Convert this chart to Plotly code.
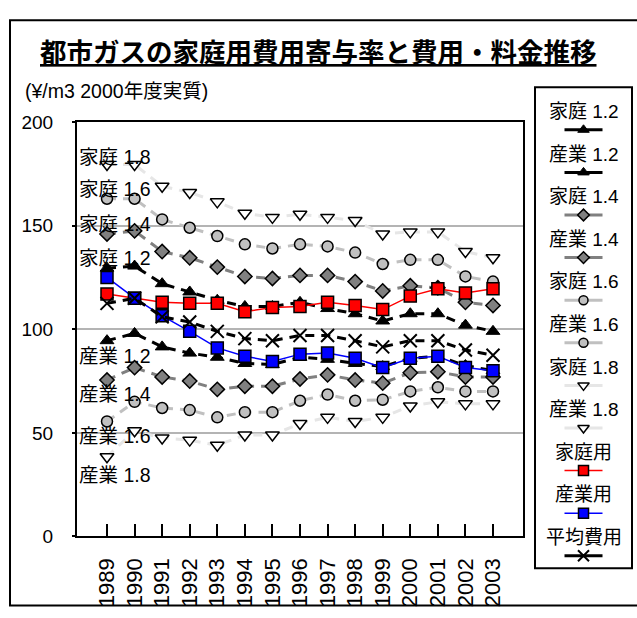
import plotly.graph_objects as go

# ---- data (yen per m3, real FY2000 prices) ----
years = list(range(1989, 2004))

katei_12 = [129.5, 130.5, 122, 118, 114, 111, 111, 113, 110, 107.5, 104, 107.5, 107.5, 102, 99]
sangyo_12 = [94.5, 98, 91.5, 88.5, 86.5, 83.5, 83, 86.5, 85.5, 83.5, 82, 86, 87, 82.5, 80]
katei_14 = [146, 147.5, 137.5, 134.5, 130, 125.5, 124.5, 126, 126, 123, 118.5, 121, 120, 113, 111.5]
sangyo_14 = [75.5, 81.5, 77, 75, 71, 72.5, 72.5, 76, 78, 75.5, 74, 79, 79.5, 77, 77]
katei_16 = [163, 163, 153, 149, 145, 141, 139, 141, 140, 137, 131.5, 133.5, 133.5, 125.5, 123]
sangyo_16 = [55.5, 65, 62, 61, 57.5, 60, 60, 65.5, 68.5, 65.5, 66, 70, 72, 70, 70]
katei_18 = [179.5, 179.5, 169, 166, 161.5, 156, 154, 155.5, 154, 152.5, 146, 147, 147, 137.5, 134.5]
sangyo_18 = [38.5, 51, 47.5, 46.5, 44, 49, 49, 54.5, 57.5, 55.5, 57.5, 63, 65, 64, 64]
kateiyo = [117, 115, 113, 112.5, 112.5, 108.5, 110.5, 111, 113, 111.5, 109.5, 116, 119.5, 117.5, 119.5]
sangyoyo = [125, 115, 106.5, 99, 91, 87, 84.5, 88, 88.5, 86, 81.5, 86, 87, 81.5, 80]
heikin = [112.5, 115, 106, 103.5, 99, 95.5, 94.5, 97, 97, 94.5, 91.5, 94.5, 94.5, 90, 87.5]

series_names = ["家庭 1.2", "産業 1.2", "家庭 1.4", "産業 1.4", "家庭 1.6", "産業 1.6",
                "家庭 1.8", "産業 1.8", "家庭用", "産業用", "平均費用"]
series_values = [katei_12, sangyo_12, katei_14, sangyo_14, katei_16, sangyo_16,
                 katei_18, sangyo_18, kateiyo, sangyoyo, heikin]

# in-plot series captions and the value level each one sits at
caption_texts = ["家庭 1.8", "家庭 1.6", "家庭 1.4", "家庭 1.2",
                 "産業 1.2", "産業 1.4", "産業 1.6", "産業 1.8"]
caption_levels = [183, 167.7, 150.6, 134.4, 87.2, 68.6, 48.4, 29.9]

y_ticks = [0, 50, 100, 150, 200]

# ---- styling ----
W, H = 637, 618
FONT = "Liberation Sans, Arial, Noto Sans CJK JP, sans-serif"
PL, PR, PT, PB = 77, 523, 116, 545          # plot area edges in pixels

styles = [
    dict(line=dict(color="black", width=3, dash="9px,7px"),
         marker=dict(symbol="triangle-up", size=12, color="black", line=dict(color="black", width=1))),
    dict(line=dict(color="black", width=3, dash="9px,7px"),
         marker=dict(symbol="triangle-up", size=12, color="black", line=dict(color="black", width=1))),
    dict(line=dict(color="#808080", width=3, dash="9px,7px"),
         marker=dict(symbol="diamond", size=11, color="#808080", line=dict(color="black", width=1.5))),
    dict(line=dict(color="#808080", width=3, dash="9px,7px"),
         marker=dict(symbol="diamond", size=11, color="#808080", line=dict(color="black", width=1.5))),
    dict(line=dict(color="#c0c0c0", width=3, dash="9px,7px"),
         marker=dict(symbol="circle", size=11, color="#c0c0c0", line=dict(color="black", width=1.5))),
    dict(line=dict(color="#c0c0c0", width=3, dash="9px,7px"),
         marker=dict(symbol="circle", size=11, color="#c0c0c0", line=dict(color="black", width=1.5))),
    dict(line=dict(color="#e6e6e6", width=3, dash="9px,7px"),
         marker=dict(symbol="triangle-down", size=12, color="white", line=dict(color="black", width=1.5))),
    dict(line=dict(color="#e6e6e6", width=3, dash="9px,7px"),
         marker=dict(symbol="triangle-down", size=12, color="white", line=dict(color="black", width=1.5))),
    dict(line=dict(color="red", width=1.5),
         marker=dict(symbol="square", size=12, color="red", line=dict(color="black", width=1.5))),
    dict(line=dict(color="blue", width=1.5),
         marker=dict(symbol="square", size=12, color="blue", line=dict(color="black", width=1.5))),
    dict(line=dict(color="black", width=3, dash="9px,7px"),
         marker=dict(symbol="x-thin", size=13, color="black", line=dict(color="black", width=2))),
]

fig = go.Figure()

for name, vals, st in zip(series_names, series_values, styles):
    fig.add_trace(go.Scatter(
        x=years, y=vals, name=name, mode="lines+markers",
        line=st["line"], marker=st["marker"], showlegend=False,
        xaxis="x", yaxis="y", cliponaxis=False,
    ))

# ---- hand-built legend: caption above each sample ----
LEG_X0, LEG_X1, LEG_Y0, LEG_Y1 = 535, 632, 80, 578
leg_cx = (LEG_X0 + LEG_X1) / 2
text_top, step, sample_gap = 105, 44.1, 19
for i, (name, st) in enumerate(zip(series_names, styles)):
    ty = text_top + step * i
    sy = ty + sample_gap
    mk = dict(st["marker"])
    mk["size"] = mk["size"] - 2
    ln = dict(st["line"])
    ln.pop("dash", None)
    fig.add_trace(go.Scatter(
        x=[leg_cx - 19, leg_cx + 19], y=[sy, sy], mode="lines",
        line=ln, showlegend=False, hoverinfo="skip", xaxis="x2", yaxis="y2"))
    fig.add_trace(go.Scatter(
        x=[leg_cx], y=[sy], mode="markers", marker=mk,
        showlegend=False, hoverinfo="skip", xaxis="x2", yaxis="y2"))
    fig.add_annotation(x=leg_cx, y=ty, xref="x2", yref="y2", text=name,
                       showarrow=False, xanchor="center", yanchor="middle",
                       font=dict(family=FONT, size=19, color="black"))

for txt, lvl in zip(caption_texts, caption_levels):
    fig.add_annotation(x=PL / W, y=lvl, xref="paper", yref="y", text=txt,
                       showarrow=False, xanchor="left", yanchor="middle",
                       font=dict(family=FONT, size=19.5, color="black"))

# title and unit note
fig.add_annotation(x=319 / W, y=1 - 44 / H, xref="paper", yref="paper",
                   text="<b><u>都市ガスの家庭用費用寄与率と費用・料金推移</u></b>",
                   showarrow=False, xanchor="center", yanchor="middle",
                   font=dict(family=FONT, size=26.5, color="black"))
fig.add_annotation(x=23 / W, y=1 - 84 / H, xref="paper", yref="paper",
                   text="(¥/m3 2000年度実質)", showarrow=False,
                   xanchor="left", yanchor="middle",
                   font=dict(family=FONT, size=19.5, color="black"))

# frames: whole chart and legend box
fig.add_shape(type="rect", xref="paper", yref="paper",
              x0=10 / W, x1=1.05, y0=1 - 616.5 / H, y1=1 - 10.5 / H,
              line=dict(color="black", width=2), fillcolor="rgba(0,0,0,0)", layer="above")
fig.add_shape(type="rect", xref="paper", yref="paper",
              x0=LEG_X0 / W, x1=LEG_X1 / W, y0=1 - LEG_Y1 / H, y1=1 - LEG_Y0 / H,
              line=dict(color="black", width=2), fillcolor="rgba(0,0,0,0)", layer="above")

step_px = (493 - 107) / 14
x_lo = years[0] - (107 - PL) / step_px
x_hi = years[-1] + (PR - 493) / step_px

fig.update_layout(
    width=W, height=H,
    margin=dict(l=0, r=0, t=0, b=0),
    paper_bgcolor="white", plot_bgcolor="white",
    font=dict(family=FONT, color="black"),
    showlegend=False,
    xaxis=dict(
        domain=[PL / W, PR / W], range=[x_lo, x_hi],
        tickmode="array", tickvals=years, ticktext=[str(y) for y in years],
        tickangle=-90, tickfont=dict(family=FONT, size=22, color="black"),
        ticks="inside", ticklen=12, tickwidth=1.5, tickcolor="black",
        ticklabelstandoff=11,
        showline=True, linecolor="black", linewidth=2, mirror=True,
        showgrid=False, zeroline=False, fixedrange=True,
    ),
    yaxis=dict(
        domain=[1 - PB / H, 1 - PT / H], range=[0, 200],
        tickmode="array", tickvals=y_ticks,
        tickfont=dict(family=FONT, size=19, color="black"),
        ticks="outside", ticklen=3, tickwidth=1.5, tickcolor="black",
        ticklabelstandoff=15,
        showline=True, linecolor="black", linewidth=2, mirror=True,
        showgrid=True, gridcolor="#b4b4b4", gridwidth=1.5,
        zeroline=False, fixedrange=True,
    ),
    xaxis2=dict(domain=[LEG_X0 / W, LEG_X1 / W], range=[LEG_X0, LEG_X1],
                visible=False, fixedrange=True, anchor="y2"),
    yaxis2=dict(domain=[1 - LEG_Y1 / H, 1 - LEG_Y0 / H], range=[LEG_Y1, LEG_Y0],
                visible=False, fixedrange=True, anchor="x2"),
)

fig.write_html("out.html")
